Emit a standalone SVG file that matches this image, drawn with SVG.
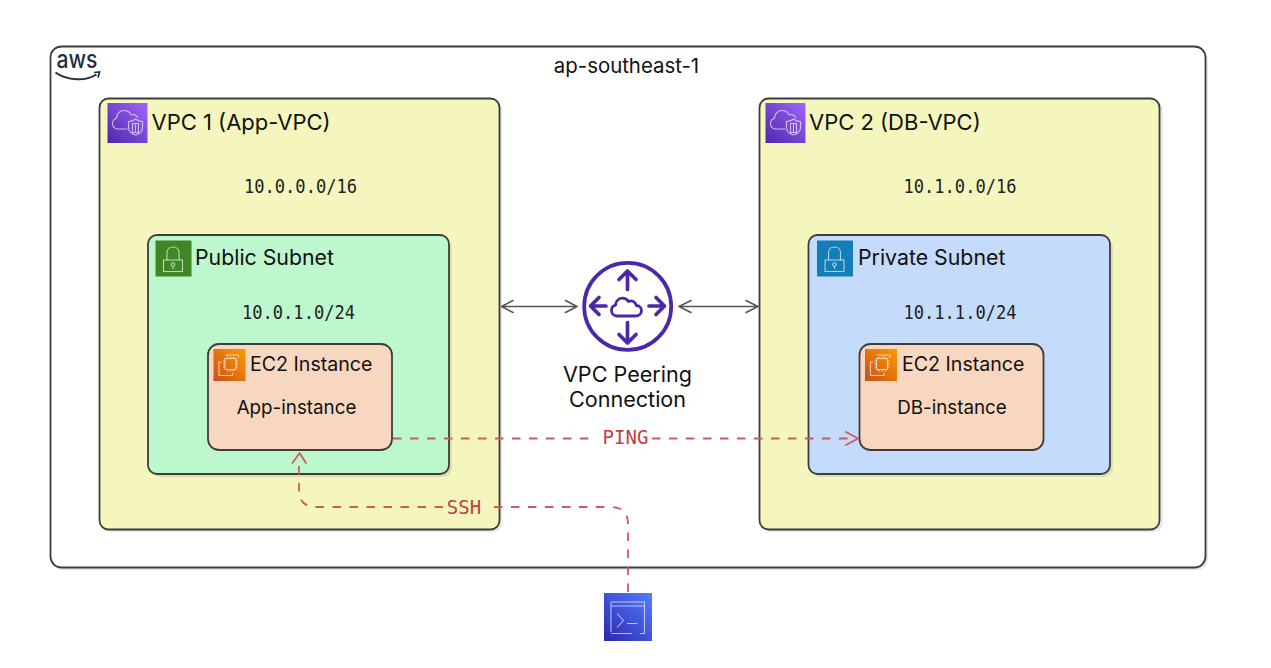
<svg xmlns="http://www.w3.org/2000/svg" width="1271" height="668" viewBox="0 0 1271 668">
<style>
.box{stroke:#3d3d3d;stroke-width:1.8}
.sh{fill:#000;fill-opacity:.09}
.t{font-family:Inter,"Liberation Sans",sans-serif;fill:#111}
.m{font-family:"DejaVu Sans Mono","Liberation Mono",monospace;fill:#222;font-size:20px;text-anchor:middle}
.r{font-family:"DejaVu Sans Mono","Liberation Mono",monospace;fill:#c0413f;font-size:19px;text-anchor:middle}
.w{fill:none;stroke:#fff;stroke-opacity:.65;stroke-width:1.1}
.dash{fill:none;stroke:#cf5b58;stroke-width:1.8;stroke-dasharray:8.5 8.5}
.arr{fill:none;stroke:#cf5b58;stroke-width:1.8;stroke-linecap:round;stroke-linejoin:round}
.peer{fill:none;stroke:#555;stroke-width:1.6;stroke-linecap:round;stroke-linejoin:round}
.ic{fill:none;stroke:#4d27aa;stroke-width:3.7;stroke-linecap:round;stroke-linejoin:round}
</style>
<defs>
<linearGradient id="gp" x1="0" y1="1" x2="1" y2="0"><stop offset="0" stop-color="#4d27a8"/><stop offset="1" stop-color="#a166ff"/></linearGradient>
<linearGradient id="go" x1="0" y1="1" x2="1" y2="0"><stop offset="0" stop-color="#c8511b"/><stop offset="1" stop-color="#ff9900"/></linearGradient>
<linearGradient id="gb" x1="0" y1="1" x2="1" y2="0"><stop offset="0" stop-color="#2e27ad"/><stop offset="1" stop-color="#527fff"/></linearGradient>
<g id="vpcglyph">
<path class="w" d="M20 26H10c-3 0-5-2.500-5-5.500 0-2.600 1.600-4.700 4-5.300 0-4.400 3.400-7.700 7.500-7.700 3.200 0 5.800 1.700 7.200 4.200 2.800-.7 5.400.5 6.800 3"/>
<path class="w" d="M21 18.500c2.500 0 5-.9 7-2.500 2 1.600 4.500 2.500 7 2.500v6c0 3.600-3 6.300-7 7.500-4-1.200-7-3.900-7-7.500z"/>
<path class="w" d="M25 20.500h6v9h-6zM28 20.500v9"/>
</g>
<g id="lock">
<rect class="w" x="8" y="19.500" width="19" height="11.500"/>
<path class="w" d="M11.500 19.500v-7.500c0-3.300 2.700-5.500 6-5.500s6 2.200 6 5.500v7.500"/>
<circle class="w" cx="17.500" cy="24" r="1.800"/>
<path class="w" d="M17.500 25.800v2.700"/>
</g>
<g id="ec2glyph">
<rect class="w" x="11.500" y="9.500" width="11" height="11"/>
<path class="w" stroke-width=".8" d="M9.500 12h2M9.500 15h2M9.500 18h2M22.500 12h2M22.500 15h2M22.500 18h2M14 7.500v2M17 7.500v2M20 7.500v2M14 20.500v2M17 20.500v2M20 20.500v2"/>
<path class="w" d="M8 13H5.500v13.500H19V24"/>
<path class="w" d="M25 9V6H12"/>
</g>
</defs>

<g id="region">
<rect class="sh" x="53" y="49" width="1155" height="521" rx="11"/>
<rect class="box" x="50.500" y="46.500" width="1155" height="521" rx="11" fill="#fff"/>
<text class="t" x="626.500" y="73" font-size="20.400" text-anchor="middle">ap-southeast-1</text>
<g id="aws-logo">
<text x="56.500" y="68" font-family="Inter,'Liberation Sans',sans-serif" font-size="24.500" font-weight="500" textLength="41" lengthAdjust="spacingAndGlyphs" fill="#232f3e">aws</text>
<path d="M55.500 72.500c12 8.500 30 9 41 2" fill="none" stroke="#232f3e" stroke-width="2"/>
<path d="M94 72.500l5.500-.5-1.500 5.500" fill="none" stroke="#232f3e" stroke-width="1.700"/>
</g>
</g>

<g id="vpc1">
<rect class="sh" x="102" y="101" width="400" height="431" rx="9"/>
<rect class="box" x="99.500" y="98.500" width="400" height="431" rx="9" fill="#f5f6bd"/>
<rect x="107.500" y="103" width="40" height="40" fill="url(#gp)"/>
<use href="#vpcglyph" x="107.500" y="103"/>
<text class="t" x="151.500" y="129.500" font-size="22">VPC 1 (App-VPC)</text>
<text class="m" x="300.500" y="193" textLength="113" lengthAdjust="spacingAndGlyphs">10.0.0.0/16</text>
</g>

<g id="vpc2">
<rect class="sh" x="762" y="101" width="401" height="431" rx="9"/>
<rect class="box" x="759.500" y="98.500" width="400" height="431" rx="9" fill="#f5f6bd"/>
<rect x="765.500" y="103" width="40" height="40" fill="url(#gp)"/>
<use href="#vpcglyph" x="765.500" y="103"/>
<text class="t" x="809" y="129.500" font-size="22">VPC 2 (DB-VPC)</text>
<text class="m" x="960" y="193" textLength="113" lengthAdjust="spacingAndGlyphs">10.1.0.0/16</text>
</g>

<g id="public-subnet">
<rect class="sh" x="151" y="238" width="301" height="239" rx="9"/>
<rect class="box" x="148" y="235" width="301" height="239" rx="9" fill="#bdf7cd"/>
<rect x="155.500" y="240.500" width="36" height="36" fill="#3f8624"/>
<use href="#lock" x="155.500" y="240.500"/>
<text class="t" x="195" y="264.500" font-size="21.300">Public Subnet</text>
<text class="m" x="298.500" y="319" textLength="113" lengthAdjust="spacingAndGlyphs">10.0.1.0/24</text>
</g>

<g id="private-subnet">
<rect class="sh" x="811" y="238" width="302" height="239" rx="9"/>
<rect class="box" x="808.500" y="235" width="301.500" height="239" rx="9" fill="#c5dbfb"/>
<rect x="817" y="240.500" width="36" height="36" fill="#147eba"/>
<use href="#lock" x="817" y="240.500"/>
<text class="t" x="858" y="264.500" font-size="21.300">Private Subnet</text>
<text class="m" x="960" y="319" textLength="113" lengthAdjust="spacingAndGlyphs">10.1.1.0/24</text>
</g>

<g id="app-instance">
<rect class="box" x="208" y="344" width="184" height="106" rx="11" fill="#f7d7c0"/>
<rect x="213.500" y="349" width="32" height="32" fill="url(#go)"/>
<use href="#ec2glyph" x="213.500" y="349"/>
<text class="t" x="250" y="371" font-size="19.600">EC2 Instance</text>
<text class="t" x="296.500" y="414" font-size="18.800" text-anchor="middle">App-instance</text>
</g>

<g id="db-instance">
<rect class="box" x="859.500" y="344" width="184" height="106" rx="11" fill="#f7d7c0"/>
<rect x="865" y="349" width="32" height="32" fill="url(#go)"/>
<use href="#ec2glyph" x="865" y="349"/>
<text class="t" x="902" y="371" font-size="19.600">EC2 Instance</text>
<text class="t" x="952" y="414" font-size="18.800" text-anchor="middle">DB-instance</text>
</g>

<g id="peering">
<circle class="ic" cx="627.700" cy="306.400" r="43.500"/>
<path class="ic" d="M627.500 289.500V271M619 279.500l8.500-8.500 8.500 8.500M627.500 322.500V343M619 334.500l8.500 8.500 8.500-8.500M606 306H591M599 297.500L590.500 306l8.500 8.500M649 306h15.500M656 297.500l8.500 8.500-8.500 8.500"/>
<path d="M617 316c-3.500 0-5.500-2.500-5.500-5.500 0-2.700 1.700-4.700 4-5.300.3-4 3.200-7 7-7 2.800 0 4.800 1.400 6 3.300 3.500-1.500 7 .3 7.800 4 3.200.2 5.200 2.500 5.200 5 0 3-2.200 5.500-5.500 5.500z" fill="none" stroke="#4d27aa" stroke-width="2.800" stroke-linejoin="round"/>
<text class="t" x="627.500" y="382" font-size="21.600" text-anchor="middle">VPC Peering</text>
<text class="t" x="627.500" y="407" font-size="21.600" text-anchor="middle">Connection</text>
</g>

<g id="cli">
<rect x="604" y="593" width="48" height="48" fill="url(#gb)"/>
<path class="w" d="M611 632V602H644.500V633.500H640M611 633.500H632M611 606h33.500"/>
<path class="w" d="M617 613.500l6.500 7-6.500 7M627 623.500h10.500" stroke-width="1.300"/>
</g>

<g id="connectors">
<path class="peer" d="M501.500 306.500H577M513 300.500l-11.500 6 11.500 6M565.500 300.500l11.500 6-11.500 6"/>
<path class="peer" d="M679 306.500H758M691 300.500l-12 6 12 6M746 300.500l12 6-12 6"/>
<path class="dash" d="M393 438.500H597M652 438.500H851"/>
<path class="arr" d="M846 432l12 6.500-12 6.500"/>
<text class="r" x="625.500" y="444">PING</text>
<path class="dash" d="M628 592V524Q628 507 611 507H489M443 507H316Q299 507 299 490V458"/>
<path class="arr" d="M292.500 463L299.500 453 306 463"/>
<text class="r" x="464" y="513.500">SSH</text>
</g>
</svg>
